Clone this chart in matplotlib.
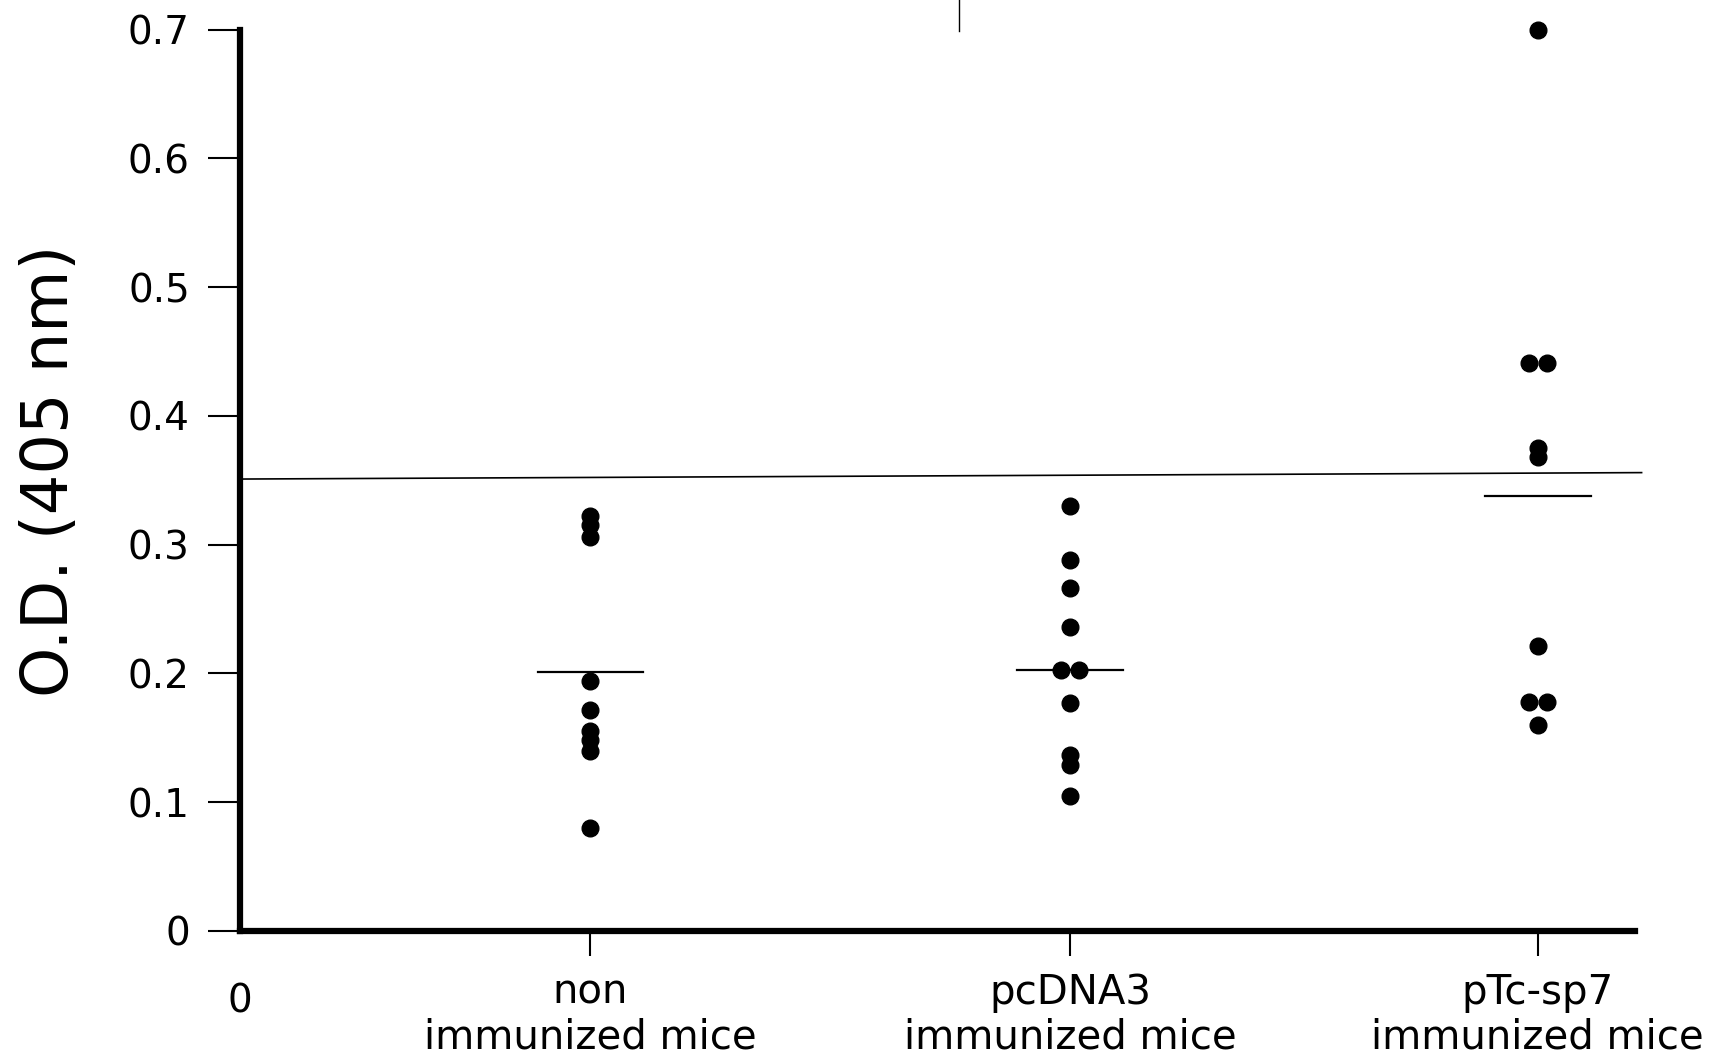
import matplotlib.pyplot as plt
from matplotlib.lines import Line2D
from matplotlib.transforms import blended_transform_factory

plt.rcParams['font.family'] = ['DejaVu Sans']

# groups and their tick labels
groups = ["non\nimmunized mice", "pcDNA3\nimmunized mice", "pTc-sp7\nimmunized mice"]

# O.D. values, one list per group
non_immunized = [0.322, 0.315, 0.306, 0.194, 0.172, 0.155, 0.148, 0.140, 0.080]
pcdna3 = [0.330, 0.288, 0.266, 0.236, 0.203, 0.203, 0.177, 0.137, 0.129, 0.105]
ptc_sp7 = [0.700, 0.441, 0.441, 0.375, 0.368, 0.221, 0.178, 0.178, 0.160]

# mean bars drawn in the figure
means = [0.201, 0.203, 0.338]

# cut-off line (slightly tilted in the scan)
cutoff = [0.351, 0.356]

y_ticks = [0, 0.1, 0.2, 0.3, 0.4, 0.5, 0.6, 0.7]
y_labels = ["0", "0.1", "0.2", "0.3", "0.4", "0.5", "0.6", "0.7"]

# layout: where each group sits on the x axis and side offsets of touching dots
positions = [0.75, 1.776, 2.776]
offsets = [
    [0, 0, 0, 0, 0, 0, 0, 0, 0],
    [0, 0, 0, 0, -0.019, 0.019, 0, 0, 0, 0],
    [0, -0.019, 0.019, 0, 0, 0, -0.019, 0.019, 0],
]

fig = plt.figure(figsize=(17.13, 10.6), dpi=100)
ax = fig.add_axes([0.140, 0.1217, 0.8145, 0.8503])

series = [non_immunized, pcdna3, ptc_sp7]
for pos, vals, offs in zip(positions, series, offsets):
    xs = [pos + o for o in offs]
    ax.plot(xs, vals, 'o', color='black', ms=12, mec='black', clip_on=False, zorder=3)

# mean bars
for pos, m in zip(positions, means):
    ax.plot([pos - 0.113, pos + 0.113], [m, m], color='black', lw=1.6)

# cut-off line
ax.plot([0, 2.998], cutoff, color='black', lw=1.2, clip_on=False)

ax.set_xlim(0, 2.984)
ax.set_ylim(0, 0.7)

for s in ['top', 'right']:
    ax.spines[s].set_visible(False)
for s in ['left', 'bottom']:
    ax.spines[s].set_linewidth(4.5)

ax.set_yticks(y_ticks)
ax.set_yticklabels(y_labels)
ax.set_xticks(positions)
ax.set_xticklabels(groups, linespacing=1.17)
ax.tick_params(axis='y', direction='out', length=23, width=1.5, pad=13, labelsize=28)
ax.tick_params(axis='x', direction='out', length=18, width=1.5, pad=12, labelsize=29)

ax.set_ylabel("O.D. (405 nm)", fontsize=46)
ax.yaxis.set_label_coords(-0.114, 0.51)

# the lone "0" under the origin
trans = blended_transform_factory(ax.transData, ax.transAxes)
ax.text(0, -0.09, "0", transform=trans, ha='center', va='baseline', fontsize=28)

# small stray mark at the top of the scan
fig.add_artist(Line2D([959 / 1713, 959 / 1713], [1.0, 1 - 31 / 1060], color='black', lw=1.0))

fig.savefig("out.png", dpi=100)
